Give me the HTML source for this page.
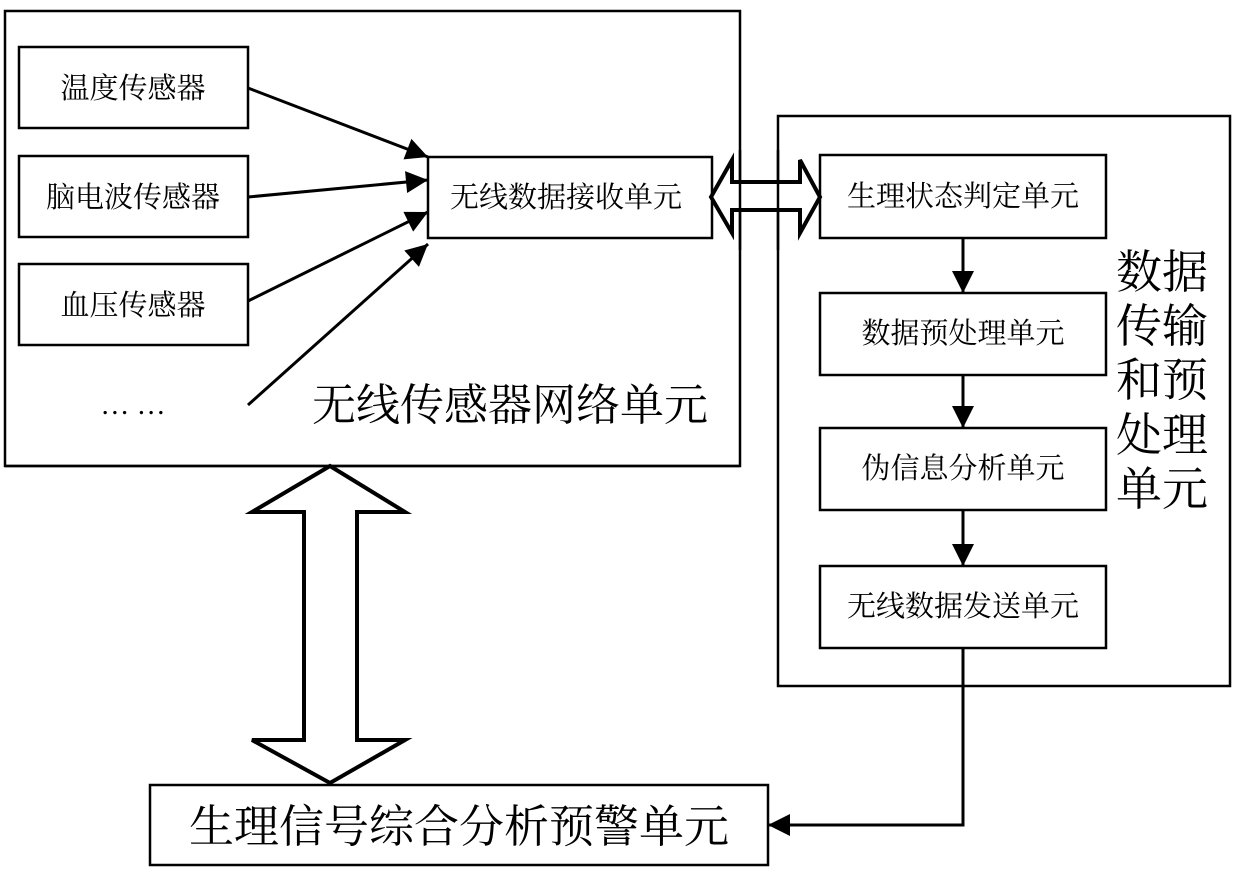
<!DOCTYPE html>
<html><head><meta charset="utf-8"><style>
html,body{margin:0;padding:0;background:#fff}
svg text{font-family:"Liberation Serif","Noto Serif CJK SC","Noto Sans CJK SC",serif;fill:#000}
</style></head><body>
<svg width="1240" height="872" viewBox="0 0 1240 872" xmlns="http://www.w3.org/2000/svg">
<defs>
<marker id="ab" viewBox="0 0 10 10" markerWidth="26" markerHeight="22" refX="10" refY="5" orient="auto" markerUnits="userSpaceOnUse"><path d="M0,0 L10,5 L0,10 Z" fill="#000"/></marker></defs>
<g fill="none" stroke="#000" stroke-width="2.5">
<rect x="5" y="11" width="735" height="455"/>
<rect x="19" y="47" width="229" height="81"/>
<rect x="19" y="156" width="229" height="81"/>
<rect x="19" y="264" width="229" height="81"/>
<rect x="428" y="157" width="284" height="81"/>
<rect x="778" y="116" width="452" height="570"/>
<rect x="820" y="155" width="286" height="83"/>
<rect x="820" y="293" width="286" height="82"/>
<rect x="820" y="428" width="286" height="82"/>
<rect x="820" y="566" width="286" height="82"/>
<rect x="150" y="785" width="618" height="80"/>
</g>
<g stroke="#000" stroke-width="3" marker-end="url(#ab)">
<line x1="248" y1="88" x2="428" y2="157"/>
<line x1="248" y1="197" x2="428" y2="180"/>
<line x1="248" y1="301" x2="428" y2="212"/>
<line x1="248" y1="405" x2="428" y2="244"/>
<line x1="963" y1="238" x2="963" y2="293"/>
<line x1="963" y1="375" x2="963" y2="428"/>
<line x1="963" y1="510" x2="963" y2="566"/>
</g>
<polyline points="963,648 963,825 768,825" fill="none" stroke="#000" stroke-width="3" marker-end="url(#ab)"/>
<polygon points="330,466 405,512 357,512 357,740 405,740 330,783 252,740 304,740 304,512 252,512" fill="#fff" stroke="#000" stroke-width="4"/>
<line x1="5" y1="466" x2="740" y2="466" stroke="#000" stroke-width="2.5"/>
<polygon points="711,197 732,160 732,182 800,182 800,160 820,197 800,233 800,210 732,210 732,233" fill="#fff" stroke="#000" stroke-width="4"/>
<line x1="740" y1="150" x2="740" y2="250" stroke="#000" stroke-width="2.5"/>
<line x1="778" y1="150" x2="778" y2="250" stroke="#000" stroke-width="2.5"/>
<g font-size="29" text-anchor="middle">
<text x="133" y="98">温度传感器</text>
<text x="133" y="207">脑电波传感器</text>
<text x="133" y="315">血压传感器</text>
<text x="133" y="414">…  …</text>
<text x="566" y="207">无线数据接收单元</text>
<text x="963" y="206">生理状态判定单元</text>
<text x="963" y="343">数据预处理单元</text>
<text x="963" y="478">伪信息分析单元</text>
<text x="963" y="616">无线数据发送单元</text>
</g>
<text x="510" y="420" font-size="44" text-anchor="middle">无线传感器网络单元</text>
<text x="459" y="842" font-size="45" text-anchor="middle">生理信号综合分析预警单元</text>
<g font-size="46" text-anchor="middle">
<text x="1162" y="288">数据</text>
<text x="1162" y="342">传输</text>
<text x="1162" y="396">和预</text>
<text x="1162" y="451">处理</text>
<text x="1162" y="505">单元</text>
</g>
</svg>
</body></html>
